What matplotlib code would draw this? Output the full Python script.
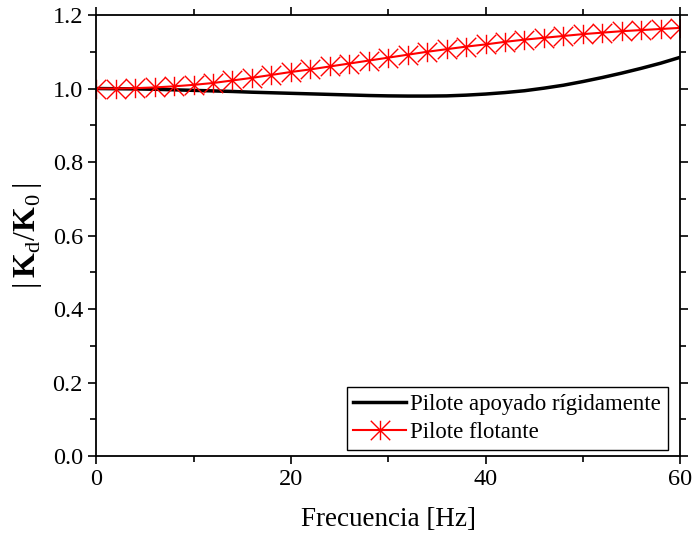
import matplotlib.pyplot as plt
from matplotlib.path import Path
from matplotlib.ticker import MultipleLocator

plt.rcParams['font.family'] = ['Liberation Serif', 'DejaVu Serif']
plt.rcParams['mathtext.fontset'] = 'custom'
plt.rcParams['mathtext.rm'] = 'Liberation Serif'
plt.rcParams['mathtext.bf'] = 'Liberation Serif:bold'

# frecuencias en Hz
freq = [0, 2, 4, 6, 8, 10, 12, 14, 16, 18, 20, 22, 24, 26, 28, 30,
        32, 34, 36, 38, 40, 42, 44, 46, 48, 50, 52, 54, 56, 58, 60]

# pilote apoyado rigidamente
k_rigido = [1.000, 0.9995, 0.999, 0.998, 0.9965, 0.995, 0.9935, 0.992, 0.990, 0.9885,
            0.987, 0.9855, 0.984, 0.9825, 0.981, 0.980, 0.9795, 0.9795, 0.980, 0.982,
            0.985, 0.989, 0.994, 1.001, 1.009, 1.019, 1.030, 1.042, 1.055, 1.069, 1.085]

# pilote flotante
k_flotante = [1.000, 1.000, 1.001, 1.003, 1.006, 1.010, 1.015, 1.022, 1.029, 1.037,
              1.045, 1.052, 1.060, 1.068, 1.076, 1.084, 1.092, 1.100, 1.107, 1.114,
              1.120, 1.127, 1.133, 1.138, 1.143, 1.148, 1.152, 1.156, 1.159, 1.162, 1.165]

# marcador tipo asterisco (X + barra vertical)
star = Path([(-1, -1), (1, 1), (-1, 1), (1, -1), (0, -1), (0, 1)],
            [Path.MOVETO, Path.LINETO, Path.MOVETO, Path.LINETO, Path.MOVETO, Path.LINETO])

fig = plt.figure(figsize=(6.92, 5.36), dpi=100)
ax = fig.add_axes([0.139, 0.149, 0.844, 0.823])

ax.plot(freq, k_rigido, color='black', lw=2.5, label='Pilote apoyado rígidamente')
ax.plot(freq, k_flotante, color='red', lw=1.5, marker=star, markersize=14,
        markeredgewidth=1.0, markerfacecolor='none', markeredgecolor='red',
        label='Pilote flotante')

ax.set_xlim(0, 60)
ax.set_ylim(0, 1.2)
ax.xaxis.set_major_locator(MultipleLocator(20))
ax.xaxis.set_minor_locator(MultipleLocator(10))
ax.yaxis.set_major_locator(MultipleLocator(0.2))
ax.yaxis.set_minor_locator(MultipleLocator(0.1))
ax.yaxis.set_major_formatter(plt.FormatStrFormatter('%.1f'))

ax.tick_params(which='both', direction='out', top=True, right=True,
               labelsize=17.5, width=1.2)
ax.tick_params(which='major', length=6)
ax.tick_params(which='minor', length=4)
for s in ax.spines.values():
    s.set_linewidth(1.3)

ax.set_xlabel('Frecuencia [Hz]', fontsize=19.5, labelpad=12)
ax.set_ylabel(r'$|\,\mathbf{K}_\mathrm{d}/\mathbf{K}_0\,|$', fontsize=23, labelpad=6)

leg = ax.legend(loc='lower right', fontsize=16.4, handlelength=2.3, handletextpad=0.2,
                fancybox=False, framealpha=1, edgecolor='black', borderpad=0.3,
                labelspacing=0.3, borderaxespad=0, bbox_to_anchor=(0.979, 0.014))
leg.get_frame().set_linewidth(1.0)

fig.savefig('out.png', dpi=100)
